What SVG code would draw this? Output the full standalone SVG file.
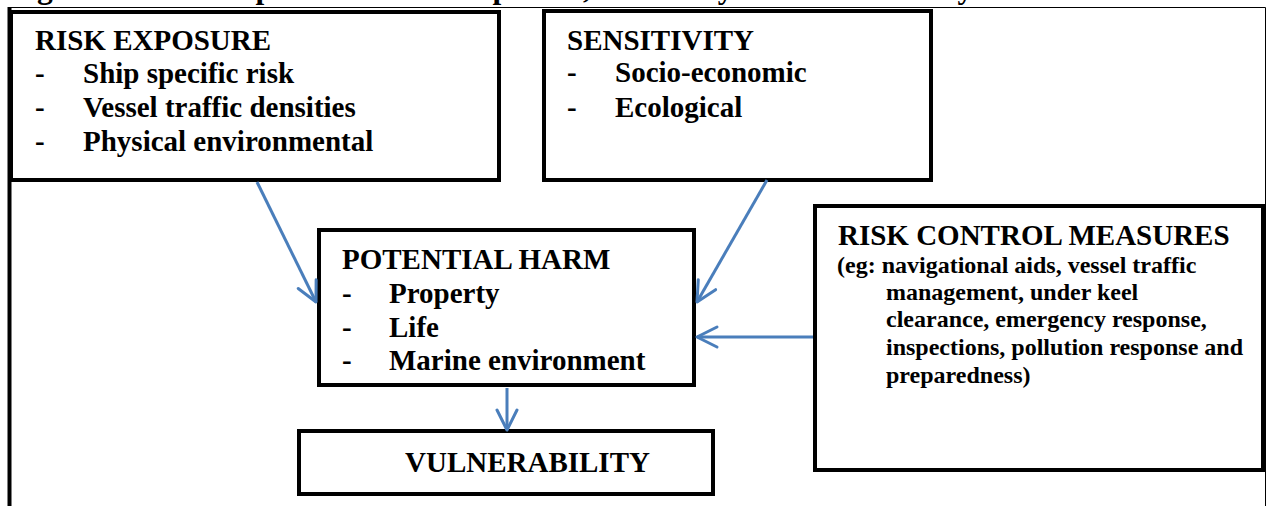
<svg xmlns="http://www.w3.org/2000/svg" width="1266" height="506" viewBox="0 0 1266 506">
<style>
.box{fill:#ffffff;stroke:#000000;stroke-width:4}
.t{font-family:"Liberation Serif","Times New Roman",serif;font-weight:bold;fill:#000000}
.h{font-size:29px}
.s{font-size:24px}
.conn{stroke:#4a7ebb;stroke-width:3;fill:none}
</style>
<defs>
<marker id="arr" markerUnits="userSpaceOnUse" viewBox="-22 -12 24 24" markerWidth="24" markerHeight="24" refX="0" refY="0" orient="auto" overflow="visible">
<path d="M-20,-10 L0,0 L-20,10" fill="none" stroke="#4a7ebb" stroke-width="3" stroke-linecap="round" stroke-linejoin="round"/>
</marker>
</defs>
<rect width="1266" height="506" fill="#ffffff"/>
<text class="t" x="9" y="-2" font-size="31.5">Figure 1: The components of risk exposure, sensitivity and vulnerability</text>
<g id="frame" fill="none" stroke="#000000">
<line x1="8" y1="7.5" x2="1265.5" y2="7.5" stroke-width="1"/>
<line x1="1265.5" y1="7.5" x2="1265.5" y2="506" stroke-width="1"/>
<line x1="9.5" y1="7" x2="9.5" y2="506" stroke-width="4"/>
</g>
<g id="risk-exposure">
<rect class="box" x="11" y="12" width="488" height="168"/>
<text class="t h" x="35" y="50">RISK EXPOSURE</text>
<text class="t h" x="35" y="83">-</text><text class="t h" x="83" y="83">Ship specific risk</text>
<text class="t h" x="35" y="117">-</text><text class="t h" x="83" y="117">Vessel traffic densities</text>
<text class="t h" x="35" y="151">-</text><text class="t h" x="83" y="151">Physical environmental</text>
</g>
<g id="sensitivity">
<rect class="box" x="544" y="11" width="387" height="169"/>
<text class="t h" x="567" y="50">SENSITIVITY</text>
<text class="t h" x="567" y="82">-</text><text class="t h" x="615" y="82">Socio-economic</text>
<text class="t h" x="567" y="117">-</text><text class="t h" x="615" y="117">Ecological</text>
</g>
<g id="potential-harm">
<rect class="box" x="319" y="230" width="375" height="155"/>
<text class="t h" x="342" y="269">POTENTIAL HARM</text>
<text class="t h" x="342" y="303">-</text><text class="t h" x="389" y="303">Property</text>
<text class="t h" x="342" y="337">-</text><text class="t h" x="389" y="337">Life</text>
<text class="t h" x="342" y="370">-</text><text class="t h" x="389" y="370">Marine environment</text>
</g>
<g id="vulnerability">
<rect class="box" x="299" y="431" width="414" height="63"/>
<text class="t h" x="405" y="472">VULNERABILITY</text>
</g>
<g id="risk-control-measures">
<rect class="box" x="815" y="206" width="448" height="264"/>
<text class="t h" x="838" y="245">RISK CONTROL MEASURES</text>
<text class="t s" x="837" y="273">(eg: navigational aids, vessel traffic</text>
<text class="t s" x="886" y="300">management, under keel</text>
<text class="t s" x="886" y="327">clearance, emergency response,</text>
<text class="t s" x="886" y="355">inspections, pollution response and</text>
<text class="t s" x="886" y="383">preparedness)</text>
</g>
<g id="connectors">
<line class="conn" x1="257" y1="182" x2="316" y2="302" marker-end="url(#arr)"/>
<line class="conn" x1="767" y1="180" x2="697" y2="302" marker-end="url(#arr)"/>
<line class="conn" x1="813" y1="337" x2="697" y2="337" marker-end="url(#arr)"/>
<line class="conn" x1="507" y1="388" x2="507" y2="430" marker-end="url(#arr)"/>
</g>
</svg>
